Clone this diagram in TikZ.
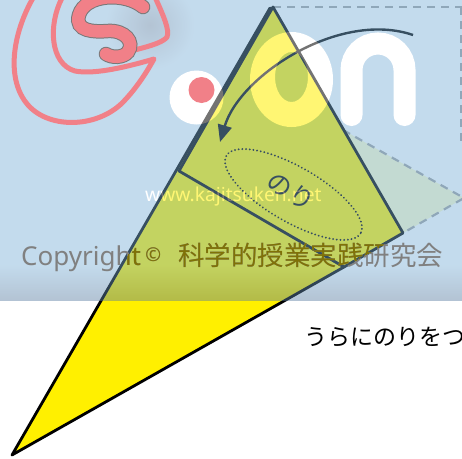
\documentclass[tikz,border=0pt]{standalone}
\usepackage{fontspec}
\setmainfont{Noto Sans}
\newfontfamily\jpfont{Noto Sans CJK JP}
\usetikzlibrary{arrows.meta}

\definecolor{paperyellow}{RGB}{255,240,0}
\definecolor{paleyellow}{RGB}{255,252,205}
\definecolor{guidegray}{RGB}{160,160,160}
\definecolor{veilblue}{RGB}{124,177,217}
\definecolor{veilshadow}{RGB}{88,124,160}
\definecolor{logopink}{RGB}{241,128,136}
\definecolor{logoedge}{RGB}{120,120,120}
\definecolor{marktext}{RGB}{128,128,128}
\definecolor{markolive}{RGB}{128,114,6}

\begin{document}
\begin{tikzpicture}[x=1pt,y=-1pt,
  outline/.style={line width=2.8pt, line join=round, line cap=round},
  guide/.style={guidegray, line width=2.2pt, dash pattern=on 8pt off 6pt},
  glueline/.style={line width=2pt, dash pattern=on 0.1pt off 3.6pt, line cap=round},
  pinkline/.style={logopink, line width=5pt, line cap=round, line join=round}]
\useasboundingbox (0,0) rectangle (462,458);
\fill[white] (0,0) rectangle (462,458);

% key points of the paper cone
\coordinate (B) at (12,455);   % bottom tip
\coordinate (T) at (270,8);    % top of the cone
\coordinate (A) at (273,7);    % top of the folded flap
\coordinate (C) at (179,171);  % fold line, left end
\coordinate (D) at (344,267);  % fold line, right end
\coordinate (E) at (403,233);  % flap corner
\coordinate (G) at (343,130);
\coordinate (H) at (464,198);
\coordinate (R) at (470,7);
\coordinate (V1) at (461,7);
\coordinate (V2) at (461,142);

% flap before folding (dashed)
\fill[paleyellow] (G) -- (H) -- (E) -- cycle;
\draw[guide] (A) -- (R);
\draw[guide] (V1) -- (V2);
\draw[guide] (G) -- (H) -- (E);

% cone body
\fill[paperyellow] (B) -- (T) -- (A) -- (E) -- (D) -- cycle;
\draw[outline] (D) -- (B) -- (T);
\draw[outline, fill=paperyellow] (A) -- (E) -- (D) -- (C) -- cycle;

% glue area
\coordinate (glue) at (293.5,194.5);
\draw[glueline, rotate around={-30:(glue)}] (glue) ellipse [x radius=77.5, y radius=27.5];
\node[rotate=-30, inner sep=0, font=\jpfont\fontsize{25}{25}\selectfont] (nori) at (291,191) {のり};

% folding arrow
\coordinate (arrowstart) at (413,35);
\coordinate (arrowend) at (220,142);
\draw[line width=2.4pt, -{Triangle[length=17pt,width=14pt]}]
  (arrowstart) .. controls (340,10) and (240,75) .. (arrowend);

% instruction
\node[anchor=base west, inner sep=0, font=\jpfont\fontsize{23}{23}\selectfont] (howto) at (304,345) {うらにのりをつ};

% site mark
\begin{scope}[transparency group, opacity=0.45]
  \fill[veilblue] (0,0) rectangle (462,300);
  \shade[top color=veilblue, bottom color=veilshadow] (0,264) rectangle (462,300);
  \shade[inner color=veilshadow, outer color=veilblue] (150,25) circle (45);
  \fill[white, even odd rule] (291.5,79.5) ellipse [x radius=41.5, y radius=47.5]
                             (291.5,77) ellipse [x radius=16.5, y radius=25];
  \draw[white, line width=22pt, line cap=round] (351.5,115) -- (351.5,70)
     arc[start angle=180, end angle=360, radius=26.5] -- (404.5,115);
  \fill[white] (196.5,97.5) circle (27);
  \node[white, anchor=base west, inner sep=0, font=\fontsize{19.2}{19.2}\selectfont] (site) at (145,201) {www.kajitsuken.net};
\end{scope}

\fill[logopink] (201.5,90) circle (13);
% outer loop
\draw[pinkline] (33,-2) .. controls (12,35) and (6,80) .. (28,105)
  .. controls (50,130) and (100,128) .. (125,100)
  .. controls (140,84) and (150,66) .. (154,59)
  .. controls (130,66) and (95,75) .. (75,71)
  .. controls (50,64) and (48,25) .. (62,-2);
% inner leaf
\draw[pinkline] (155,-3) .. controls (163,15) and (170,30) .. (167,37)
  .. controls (160,46) and (130,50) .. (105,58);
% the S
\draw[logoedge, line width=14.5pt, line cap=round]
  (143,7) .. controls (125,-8) and (85,-6) .. (79,15)
  .. controls (74,32) and (95,32) .. (108,31)
  .. controls (125,30) and (135,42) .. (128,52)
  .. controls (123,58) and (112,58) .. (106,54);
\draw[logopink, line width=12.5pt, line cap=round]
  (143,7) .. controls (125,-8) and (85,-6) .. (79,15)
  .. controls (74,32) and (95,32) .. (108,31)
  .. controls (125,30) and (135,42) .. (128,52)
  .. controls (123,58) and (112,58) .. (106,54);

% copyright line
\node[anchor=base west, inner sep=0, text=marktext, font=\fontsize{26}{26}\selectfont] (copy) at (21,265)
  {Copyright\,\raisebox{4pt}{\fontsize{19}{19}\selectfont ©}};
\node[anchor=base west, inner sep=0, text=marktext, font=\jpfont\fontsize{26.5}{26.5}\selectfont] (society) at (178,265)
  {科学的授業実践研究会};
\begin{scope}
  \clip (B) -- (T) -- (A) -- (E) -- (D) -- cycle;
  \node[anchor=base west, inner sep=0, text=markolive, font=\fontsize{26}{26}\selectfont] (copyin) at (21,265)
    {Copyright\,\raisebox{4pt}{\fontsize{19}{19}\selectfont ©}};
  \node[anchor=base west, inner sep=0, text=markolive, font=\jpfont\fontsize{26.5}{26.5}\selectfont] (societyin) at (178,265)
    {科学的授業実践研究会};
\end{scope}
\end{tikzpicture}
\end{document}
